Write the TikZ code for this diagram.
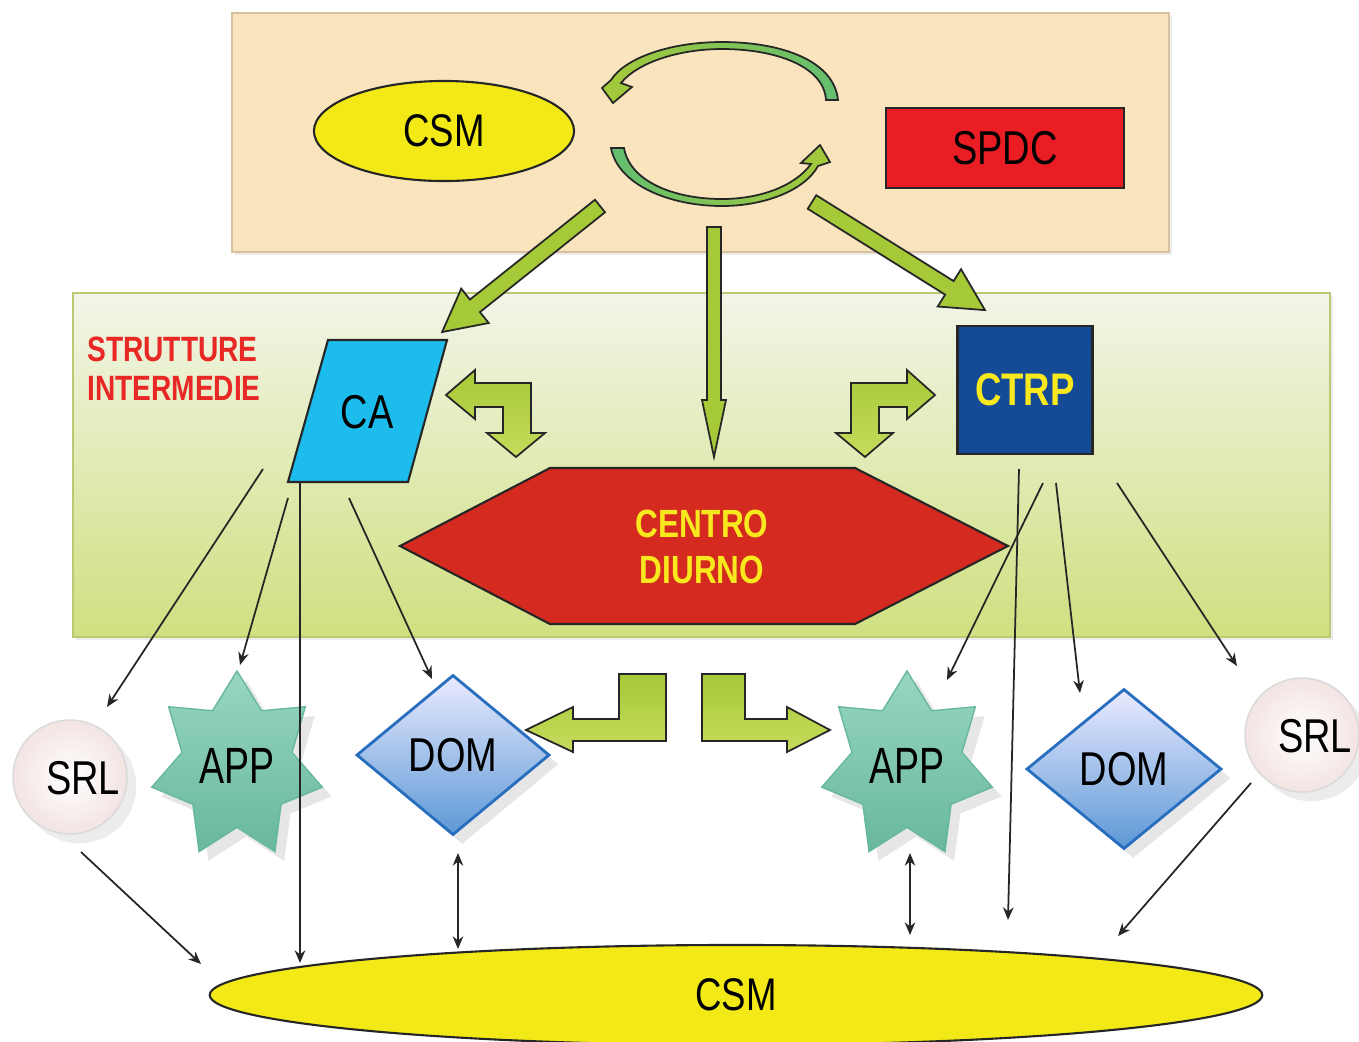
\documentclass[tikz,border=0pt]{standalone}
\usepackage{fontspec}
\setmainfont{Liberation Sans}[FakeStretch=0.8]
\usetikzlibrary{shapes.geometric,arrows.meta,shadows}

\definecolor{csmyellow}{RGB}{242,233,22}
\definecolor{spdcred}{RGB}{234,28,36}
\definecolor{cablue}{RGB}{28,188,236}
\definecolor{ctrpblue}{RGB}{20,74,150}
\definecolor{cdred}{RGB}{213,42,32}
\definecolor{cdyellow}{RGB}{248,232,30}
\definecolor{labelred}{RGB}{232,40,36}
\definecolor{beige}{RGB}{249,228,190}
\definecolor{bandtop}{RGB}{242,245,232}
\definecolor{bandbot}{RGB}{207,224,128}
\definecolor{arrgreen}{RGB}{166,201,56}
\definecolor{arrlight}{RGB}{198,220,92}
\definecolor{arcgreen}{RGB}{98,190,112}
\definecolor{appteal}{RGB}{126,204,176}
\definecolor{appdark}{RGB}{104,184,156}
\definecolor{domblue}{RGB}{92,152,214}
\definecolor{domedge}{RGB}{40,110,190}
\definecolor{srlpink}{RGB}{242,228,226}

\tikzstyle{shapeline}=[draw=black!85, line width=0.6pt]
\tikzstyle{csmnode}=[ellipse, shapeline, fill=csmyellow, inner sep=0pt,%
                     font=\fontsize{13}{15}\selectfont]
\tikzstyle{spdcnode}=[rectangle, shapeline, fill=spdcred, inner sep=0pt,%
                      minimum width=2.38cm, minimum height=0.8cm,%
                      font=\fontsize{13.5}{15}\selectfont]
\tikzstyle{ctrpnode}=[rectangle, shapeline, fill=ctrpblue, text=cdyellow, inner sep=0pt,%
                      minimum width=1.35cm, minimum height=1.28cm,%
                      font=\bfseries\fontsize{13}{15}\selectfont]
\tikzstyle{appnode}=[star, star points=7, star point ratio=1.55, inner sep=0pt,%
                     minimum size=1.9cm, xscale=0.92, transform shape,%
                     draw=appdark, line width=0.4pt,%
                     top color=appteal!80!white, bottom color=appdark,%
                     drop shadow={opacity=0.2},%
                     font=\fontsize{14.5}{16}\selectfont]
\tikzstyle{domnode}=[diamond, inner sep=0pt, draw=domedge, line width=0.8pt,%
                     top color=white!92!blue, bottom color=domblue,%
                     drop shadow={opacity=0.2},%
                     font=\fontsize{13.5}{15}\selectfont]
\tikzstyle{srlnode}=[circle, minimum size=1.14cm, draw=gray!30, line width=0.4pt,%
                     inner color=white, outer color=srlpink,%
                     drop shadow={opacity=0.15}]
\tikzstyle{srltext}=[font=\fontsize{13.5}{15}\selectfont]
\tikzstyle{bigarrow}=[draw=black!85, line width=0.5pt, fill=arrgreen]
\tikzstyle{bentarrow}=[draw=black!85, line width=0.5pt, top color=arrgreen, bottom color=arrlight]
\tikzstyle{thinarrow}=[draw=black!85, line width=0.5pt]

% block arrow: tail, angle, length, half shaft, half head, head length
\newcommand{\blockarrow}[6]{%
  \begin{scope}[shift={(#1)},rotate=#2]
    \draw[bigarrow] (0,-#4) -- ({#3-#6},-#4) -- ({#3-#6},-#5) -- (#3,0)
      -- ({#3-#6},#5) -- ({#3-#6},#4) -- (0,#4) -- cycle;
  \end{scope}}

\begin{document}
\begin{tikzpicture}[x=0.01cm, y=-0.01cm, >={Stealth[length=3.6pt,width=3pt]}]
\useasboundingbox (0,0) rectangle (1359,1041);

% backgrounds
\draw[fill=beige, draw=beige!85!black, line width=0.4pt,
      drop shadow={opacity=0.15, shadow xshift=0.8pt, shadow yshift=-0.8pt}]
      (232,13) rectangle (1169,252);
\draw[top color=bandtop, bottom color=bandbot, draw=bandbot!90!black, line width=0.4pt,
      drop shadow={opacity=0.15, shadow xshift=0.8pt, shadow yshift=-0.8pt}]
      (73,293) rectangle (1330,637);

% top
\node[csmnode, minimum width=2.6cm, minimum height=1.0cm] (csmtop) at (444,131) {CSM};
\node[spdcnode] (spdc) at (1005,148) {SPDC};

% the two curved arrows
\draw[shapeline, line width=0.5pt, left color=arrgreen, right color=arcgreen]
  (838,100) .. controls (834,60) and (780,42) .. (722,42)
  .. controls (670,42) and (625,58) .. (611,80) -- (602,88) -- (613,103)
  -- (632,87) -- (621,83) .. controls (638,62) and (680,49) .. (722,49)
  .. controls (775,49) and (824,66) .. (826,100) -- cycle;
\draw[shapeline, line width=0.5pt, left color=arcgreen, right color=arrgreen]
  (611,148) .. controls (618,185) and (670,206) .. (722,206)
  .. controls (765,206) and (805,190) .. (818,166) -- (830,162) -- (820,145)
  -- (801,163) -- (811,164) .. controls (795,186) and (760,199) .. (722,199)
  .. controls (675,199) and (630,182) .. (624,148) -- cycle;

% arrows down from the top box
\blockarrow{600,206}{-141.4}{202}{8}{22}{42}
\blockarrow{714,227}{-90}{230}{7}{12}{57}
\blockarrow{812,202}{-32}{204}{8}{22}{42}

% intermediate structures
\node[font=\bfseries\fontsize{10}{11.1}\selectfont, text=labelred, align=left]
  (strutt) at (174,369) {STRUTTURE\\INTERMEDIE};
\draw[shapeline, fill=cablue] (328,340) -- (447,340) -- (408,482) -- (288,482) -- cycle;
\node[font=\fontsize{13.5}{15}\selectfont] (ca) at (367,412) {CA};
\node[ctrpnode] (ctrp) at (1025,390) {CTRP};

\draw[bentarrow] (446,395) -- (475,370) -- (475,383) -- (531,383) -- (531,433)
  -- (545,433) -- (516,457) -- (487,433) -- (503,433) -- (503,407) -- (475,407)
  -- (475,419) -- cycle;
\draw[bentarrow] (935,395) -- (907,370) -- (907,383) -- (851,383) -- (851,433)
  -- (836,433) -- (865,457) -- (893,433) -- (879,433) -- (879,407) -- (907,407)
  -- (907,419) -- cycle;

\draw[shapeline, fill=cdred] (400,546) -- (550,468) -- (855,468) -- (1008,546)
  -- (855,624) -- (550,624) -- cycle;
\node[font=\bfseries\fontsize{11.2}{13.1}\selectfont, text=cdyellow, align=center]
  (cd) at (702,547) {CENTRO\\DIURNO};

% bottom row
\node[srlnode] (srlL) at (70,777) {};
\node[srltext] (srlLtxt) at (83,778) {SRL};
\node[appnode] (appL) at (237,766) {APP};
\node[domnode, minimum width=1.93cm, minimum height=1.6cm] (domL) at (453,755) {DOM};
\node[appnode] (appR) at (907,766) {APP};
\node[domnode, minimum width=1.95cm, minimum height=1.6cm] (domR) at (1124,769) {DOM};
\node[srlnode] (srlR) at (1302,735) {};
\node[srltext] (srlRtxt) at (1315,736) {SRL};

\draw[bentarrow] (666,674) -- (666,741) -- (573,741) -- (573,752) -- (526,730)
  -- (573,707) -- (573,719) -- (619,719) -- (619,674) -- cycle;
\draw[bentarrow] (702,674) -- (745,674) -- (745,719) -- (787,719) -- (787,707)
  -- (830,730) -- (787,752) -- (787,741) -- (702,741) -- cycle;

\node[csmnode, minimum width=10.52cm, minimum height=1.0cm] (csmbot) at (736,995) {CSM};

% connectors
\coordinate (s1) at (263,469);  \coordinate (e1) at (107,707);
\coordinate (s2) at (288,498);  \coordinate (e2) at (240,665);
\coordinate (s3) at (300,482);  \coordinate (e3) at (300,963);
\coordinate (s4) at (349,498);  \coordinate (e4) at (432,679);
\coordinate (s5) at (81,852);   \coordinate (e5) at (201,964);
\coordinate (s6) at (458,853);  \coordinate (e6) at (458,949);
\coordinate (s7) at (910,853);  \coordinate (e7) at (910,935);
\coordinate (s8) at (1019,469); \coordinate (e8) at (1008,920);
\coordinate (s9) at (1043,483); \coordinate (e9) at (947,680);
\coordinate (s10) at (1056,483); \coordinate (e10) at (1080,693);
\coordinate (s11) at (1117,483); \coordinate (e11) at (1237,666);
\coordinate (s12) at (1251,783); \coordinate (e12) at (1118,936);

\draw[thinarrow, ->] (s1) -- (e1);
\draw[thinarrow, ->] (s2) -- (e2);
\draw[thinarrow, ->] (s3) -- (e3);
\draw[thinarrow, ->] (s4) -- (e4);
\draw[thinarrow, ->] (s5) -- (e5);
\draw[thinarrow, <->] (s6) -- (e6);
\draw[thinarrow, <->] (s7) -- (e7);
\draw[thinarrow, ->] (s8) -- (e8);
\draw[thinarrow, ->] (s9) -- (e9);
\draw[thinarrow, ->] (s10) -- (e10);
\draw[thinarrow, ->] (s11) -- (e11);
\draw[thinarrow, ->] (s12) -- (e12);
\end{tikzpicture}
\end{document}
